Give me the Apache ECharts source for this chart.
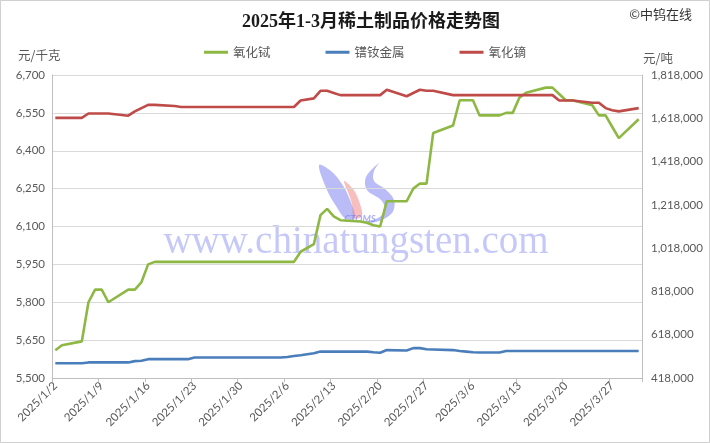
<!DOCTYPE html>
<html><head><meta charset="utf-8">
<script src="https://cdn.jsdelivr.net/npm/echarts@6/dist/echarts.min.js"></script>
<style>html,body{margin:0;padding:0;background:#fff}#c{width:710px;height:443px}</style>
</head><body><div id="c"></div>
<script>
// ---- data ----
const tradeDates = [
 '2025/1/2','2025/1/3','2025/1/6','2025/1/7','2025/1/8','2025/1/9','2025/1/10',
 '2025/1/13','2025/1/14','2025/1/15','2025/1/16','2025/1/17',
 '2025/1/20','2025/1/21','2025/1/22','2025/1/23','2025/1/24','2025/1/26','2025/1/27',
 '2025/2/5','2025/2/6','2025/2/7','2025/2/8',
 '2025/2/10','2025/2/11','2025/2/12','2025/2/13','2025/2/14',
 '2025/2/17','2025/2/18','2025/2/19','2025/2/20','2025/2/21',
 '2025/2/24','2025/2/25','2025/2/26','2025/2/27','2025/2/28',
 '2025/3/3','2025/3/4','2025/3/5','2025/3/6','2025/3/7',
 '2025/3/10','2025/3/11','2025/3/12','2025/3/13','2025/3/14',
 '2025/3/17','2025/3/18','2025/3/19','2025/3/20','2025/3/21',
 '2025/3/24','2025/3/25','2025/3/26','2025/3/27','2025/3/28','2025/3/31'
];
// 氧化铽 元/千克 (left axis)
const terbiumOxide = [
 5610,5630,5645,5800,5850,5850,5800,
 5850,5850,5880,5950,5960,
 5960,5960,5960,5960,5960,5960,5960,
 5960,5960,5960,6000,
 6030,6145,6170,6140,6125,
 6120,6115,6105,6100,6200,
 6200,6250,6270,6270,6470,
 6500,6600,6600,6600,6540,
 6540,6550,6550,6610,6630,
 6650,6650,6625,6600,6600,
 6580,6540,6540,6495,6450,6525
];
// 镨钕金属 元/吨 (right axis)
const prndMetal = [
 486000,486000,486000,490000,490000,490000,490000,
 490000,496000,498000,505000,505000,
 505000,505000,505000,513000,513000,513000,513000,
 513000,515000,520000,523000,
 532000,540000,540000,540000,540000,
 540000,540000,537000,535000,547000,
 545000,556000,556000,551000,550000,
 547000,543000,540000,537000,536000,
 536000,543000,543000,543000,543000,
 543000,543000,543000,543000,543000,
 543000,543000,543000,543000,543000,543000
];
// 氧化镝 元/吨 (right axis)
const dysprosiumOxide = [
 1620000,1620000,1620000,1640000,1640000,1640000,1640000,
 1630000,1650000,1665000,1680000,1680000,
 1675000,1670000,1670000,1670000,1670000,1670000,1670000,
 1670000,1670000,1670000,1700000,
 1710000,1745000,1745000,1735000,1725000,
 1725000,1725000,1725000,1725000,1750000,
 1720000,1735000,1750000,1745000,1745000,
 1725000,1725000,1725000,1725000,1725000,
 1725000,1725000,1725000,1725000,1725000,
 1725000,1725000,1700000,1700000,1700000,
 1690000,1690000,1665000,1655000,1650000,1665000
];
const seriesNames = ['氧化铽','镨钕金属','氧化镝'];
const leftAxisRange = [5500, 6700, 150];
const rightAxisRange = [418000, 1818000, 200000];
const axisStart = '2025/1/2', axisEnd = '2025/3/31';

// calendar days for the date axis
const allDates = [];
(function(){
  const p = s => s.split('/').map(Number);
  const a = p(axisStart), b = p(axisEnd);
  const d = new Date(a[0], a[1]-1, a[2]), e = new Date(b[0], b[1]-1, b[2]);
  for (; d <= e; d.setDate(d.getDate()+1)) allDates.push(d.getFullYear()+'/'+(d.getMonth()+1)+'/'+d.getDate());
})();

const CN = "'Noto Sans CJK SC', sans-serif";
const NUM = "Lato, 'Noto Sans', sans-serif";
const LBL = '#595959';
const fmt = v => Number(v).toLocaleString('en-US');
const WM_BLUE = 'rgba(115,122,238,0.5)', WM_RED = 'rgba(242,125,125,0.5)';

const chart = echarts.init(document.getElementById('c'), null, {renderer:'canvas'});
chart.setOption({
  backgroundColor:'#ffffff',
  animation:false,
  grid:{left:52, right:68, top:75, bottom:65, containLabel:false},
  legend:{
    left:199, top:41, itemWidth:24, itemHeight:3, itemGap:55, icon:'rect',
    textStyle:{fontFamily:CN, fontSize:12.5, color:LBL},
    data:seriesNames
  },
  xAxis:{
    type:'category', data:allDates, boundaryGap:true,
    axisLine:{show:true, lineStyle:{color:'#bfbfbf', width:1}},
    axisTick:{show:true, interval:6, alignWithLabel:false, length:4, lineStyle:{color:'#bfbfbf'}},
    axisLabel:{interval:6, rotate:45, fontFamily:NUM, fontSize:11.5, color:LBL, margin:6},
    splitLine:{show:false}
  },
  yAxis:[
    {type:'value', min:leftAxisRange[0], max:leftAxisRange[1], interval:leftAxisRange[2],
     axisLine:{show:true, lineStyle:{color:'#bfbfbf'}}, axisTick:{show:false},
     axisLabel:{formatter:fmt, fontFamily:NUM, fontSize:11.5, color:LBL, margin:7},
     splitLine:{show:true, lineStyle:{color:'#d9d9d9', width:1}}},
    {type:'value', min:rightAxisRange[0], max:rightAxisRange[1], interval:rightAxisRange[2],
     axisLine:{show:true, lineStyle:{color:'#bfbfbf'}}, axisTick:{show:false},
     axisLabel:{formatter:fmt, fontFamily:NUM, fontSize:11.5, color:LBL, margin:9},
     splitLine:{show:false}}
  ],
  series:[
    {name:seriesNames[0], type:'line', yAxisIndex:0, showSymbol:false, symbol:'none',
     lineStyle:{width:2.6, color:'#8DB844'}, itemStyle:{color:'#8DB844'},
     data:tradeDates.map((t,i)=>[t, terbiumOxide[i]])},
    {name:seriesNames[1], type:'line', yAxisIndex:1, showSymbol:false, symbol:'none',
     lineStyle:{width:2.6, color:'#4A7EBB'}, itemStyle:{color:'#4A7EBB'},
     data:tradeDates.map((t,i)=>[t, prndMetal[i]])},
    {name:seriesNames[2], type:'line', yAxisIndex:1, showSymbol:false, symbol:'none',
     lineStyle:{width:2.6, color:'#BE4B48'}, itemStyle:{color:'#BE4B48'},
     data:tradeDates.map((t,i)=>[t, dysprosiumOxide[i]])}
  ],
  graphic:[
    {type:'rect', silent:true, z:100, shape:{x:0.5,y:0.5,width:709,height:442},
     style:{fill:'none', stroke:'#d0d0d0', lineWidth:1}},
    {type:'text', silent:true, style:{text:'2025年1-3月稀土制品价格走势图', x:371, y:22,
      textAlign:'center', textVerticalAlign:'middle',
      font:"bold 18px 'Liberation Serif', 'Noto Sans CJK SC', serif", fill:'#1a1a1a'}},
    {type:'text', silent:true, style:{text:'©中钨在线', x:692, y:14,
      textAlign:'right', textVerticalAlign:'middle', font:"13px "+CN, fill:'#333333'}},
    {type:'text', silent:true, style:{text:'元/千克', x:18, y:55,
      textAlign:'left', textVerticalAlign:'middle', font:"12.5px "+CN, fill:LBL}},
    {type:'text', silent:true, style:{text:'元/吨', x:643, y:58,
      textAlign:'left', textVerticalAlign:'middle', font:"12.5px "+CN, fill:LBL}},
    // watermark
    {type:'text', silent:true, z:-1, style:{text:'www.chinatungsten.com', x:356, y:243,
      textAlign:'center', textVerticalAlign:'middle',
      font:"39px 'Liberation Serif', 'DejaVu Serif', serif", fill:'rgba(140,145,242,0.5)'}},
    {type:'polygon', silent:true, z:-1, shape:{smooth:0.35,
      points:[[319,165],[331,171],[342,184],[350,200],[355,218],[346,219],[336,206],[327,190]]},
      style:{fill:WM_BLUE}},
    {type:'polygon', silent:true, z:-1, shape:{smooth:0.35,
      points:[[344,181],[353,189],[359,201],[362,216],[354,218],[352,204],[348,192]]},
      style:{fill:WM_RED}},
    {type:'polygon', silent:true, z:-1, shape:{smooth:0.35,
      points:[[379,163],[366,177],[367,190],[381,200],[385,210],[378,218],[364,222],[376,222],[392,213],[394,200],[385,189],[374,181],[374,171]]},
      style:{fill:WM_BLUE}},
    {type:'text', silent:true, z:-1, style:{text:'CTOMS', x:360, y:219,
      textAlign:'center', textVerticalAlign:'middle', font:"italic bold 9.5px "+NUM, fill:'rgba(115,122,238,0.6)'}}
  ]
});
</script></body></html>
